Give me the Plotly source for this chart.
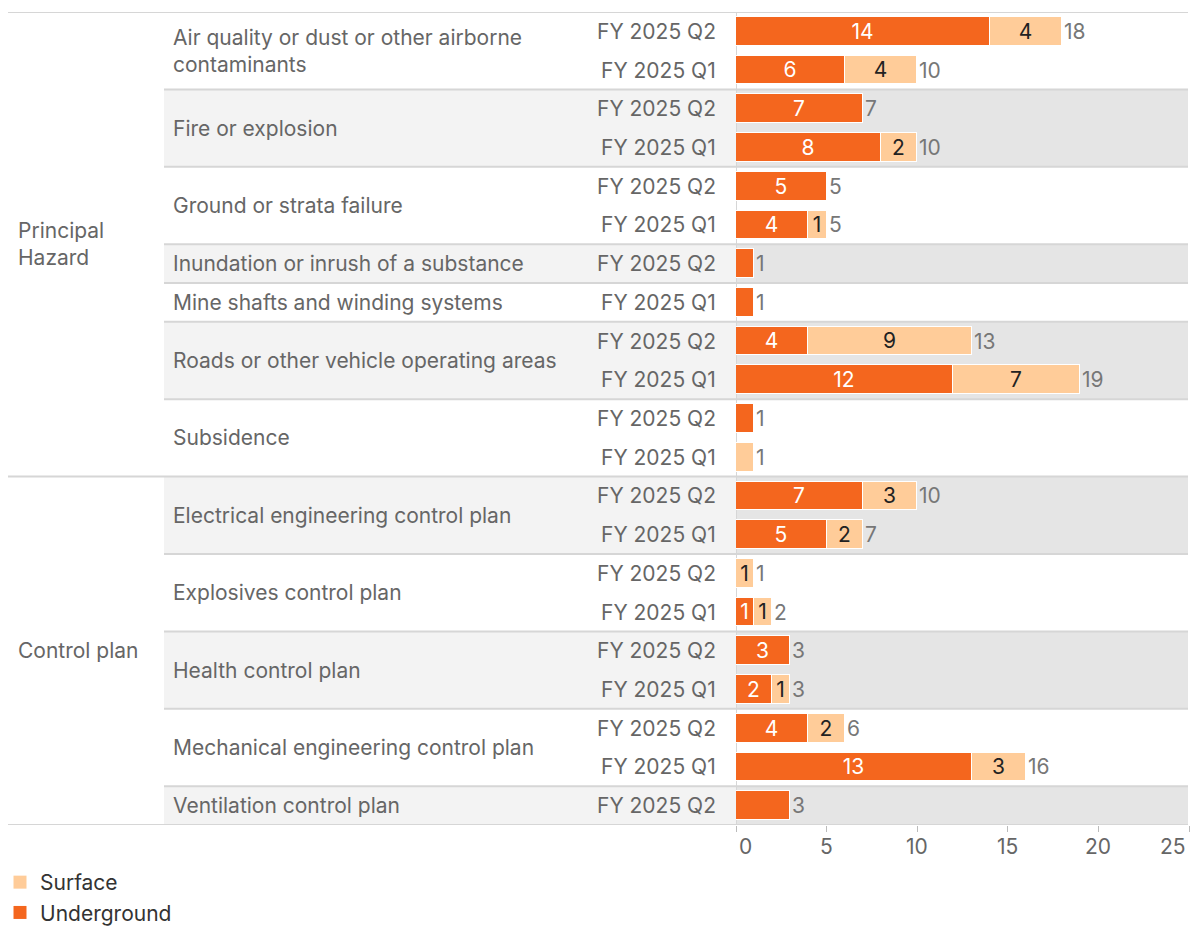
import plotly.graph_objects as go

# ---- data -------------------------------------------------------------
groups = ["Principal Hazard"] * 12 + ["Control plan"] * 9
group_labels = {"Principal Hazard": "Principal<br>Hazard", "Control plan": "Control plan"}

hazards = [
    "Air quality or dust or other airborne contaminants",
    "Air quality or dust or other airborne contaminants",
    "Fire or explosion", "Fire or explosion",
    "Ground or strata failure", "Ground or strata failure",
    "Inundation or inrush of a substance",
    "Mine shafts and winding systems",
    "Roads or other vehicle operating areas", "Roads or other vehicle operating areas",
    "Subsidence", "Subsidence",
    "Electrical engineering control plan", "Electrical engineering control plan",
    "Explosives control plan", "Explosives control plan",
    "Health control plan", "Health control plan",
    "Mechanical engineering control plan", "Mechanical engineering control plan",
    "Ventilation control plan",
]
hazard_display = {
    "Air quality or dust or other airborne contaminants":
        "Air quality or dust or other airborne<br>contaminants",
}

periods = [
    "FY 2025 Q2", "FY 2025 Q1", "FY 2025 Q2", "FY 2025 Q1", "FY 2025 Q2", "FY 2025 Q1",
    "FY 2025 Q2", "FY 2025 Q1", "FY 2025 Q2", "FY 2025 Q1", "FY 2025 Q2", "FY 2025 Q1",
    "FY 2025 Q2", "FY 2025 Q1", "FY 2025 Q2", "FY 2025 Q1", "FY 2025 Q2", "FY 2025 Q1",
    "FY 2025 Q2", "FY 2025 Q1", "FY 2025 Q2",
]

underground = [14, 6, 7, 8, 5, 4, 1, 1, 4, 12, 1, 0, 7, 5, 0, 1, 3, 2, 4, 13, 3]
surface = [4, 4, 0, 2, 0, 1, 0, 0, 9, 7, 0, 1, 3, 2, 1, 1, 0, 1, 2, 3, 0]

# segment labels are left off the narrowest single-segment rows
segment_labels_shown = [True] * 21
for i in (6, 7, 10, 11, 20):
    segment_labels_shown[i] = False

x_ticks = [0, 5, 10, 15, 20, 25]

# ---- styling ----------------------------------------------------------
FONT = "Inter"
FS = 21
C_UNDER = "#F4661E"
C_SURF = "#FFCC99"
C_TEXT = "#666666"
C_LINE = "#D6D6D6"
BAND_LABEL = "#F3F3F3"
BAND_PLOT = "#E5E5E5"

W, H = 1190, 926
PLOT_L, PLOT_R = 736, 1189
TOP, BOTTOM = 12, 825
LABEL_COL = 164
EDGE_L, EDGE_R = 8, 1188

n = len(periods)
rows = list(range(n))


def px(x):
    return x / W


def py(y):
    return (BOTTOM - y) / (BOTTOM - TOP)


def seg_text(values):
    return [str(v) if (v and show) else "" for v, show in zip(values, segment_labels_shown)]


def nz(values):
    return [v if v else None for v in values]


fig = go.Figure()

fig.add_trace(go.Bar(
    name="Underground", y=rows, x=nz(underground), orientation="h",
    marker=dict(color=C_UNDER, line=dict(color="white", width=1)),
    text=seg_text(underground), textposition="inside", insidetextanchor="middle",
    textangle=0, textfont=dict(color="white", size=FS, family=FONT),
    width=0.74, showlegend=False, hoverinfo="skip",
))
fig.add_trace(go.Bar(
    name="Surface", y=rows, x=nz(surface), orientation="h",
    marker=dict(color=C_SURF, line=dict(color="white", width=1)),
    text=seg_text(surface), textposition="inside", insidetextanchor="middle",
    textangle=0, textfont=dict(color="#222222", size=FS, family=FONT),
    width=0.74, showlegend=False, hoverinfo="skip",
))

# legend entries with solid square swatches
for name, color in (("Surface", C_SURF), ("Underground", C_UNDER)):
    fig.add_trace(go.Scatter(
        name=name, x=[None], y=[None], mode="markers",
        marker=dict(symbol="square", size=13, color=color, line=dict(width=0)),
        showlegend=True, hoverinfo="skip",
    ))

shapes = []
annotations = []

# hazard blocks: alternating bands, separators and labels
blocks = []
for i, h in enumerate(hazards):
    if blocks and blocks[-1][0] == h:
        blocks[-1][2] = i
    else:
        blocks.append([h, i, i])

for k, (h, r0, r1) in enumerate(blocks):
    if k % 2 == 1:
        shapes.append(dict(type="rect", xref="paper", yref="y", layer="below",
                           x0=px(LABEL_COL), x1=px(PLOT_L), y0=r0 - 0.5, y1=r1 + 0.5,
                           fillcolor=BAND_LABEL, line_width=0))
        shapes.append(dict(type="rect", xref="paper", yref="y", layer="below",
                           x0=px(PLOT_L), x1=px(EDGE_R), y0=r0 - 0.5, y1=r1 + 0.5,
                           fillcolor=BAND_PLOT, line_width=0))
    if r0 > 0:
        x_start = EDGE_L if groups[r0] != groups[r0 - 1] else LABEL_COL
        shapes.append(dict(type="line", xref="paper", yref="y", layer="below",
                           x0=px(x_start), x1=px(EDGE_R), y0=r0 - 0.5, y1=r0 - 0.5,
                           line=dict(color=C_LINE, width=2)))
    annotations.append(dict(xref="paper", yref="y", x=px(171), y=(r0 + r1) / 2,
                            text=hazard_display.get(h, h), showarrow=False,
                            xanchor="left", yanchor="middle", align="left",
                            font=dict(family=FONT, size=FS, color=C_TEXT)))

# outer rules: top, bottom and the zero axis
shapes.append(dict(type="line", xref="paper", yref="y", layer="below",
                   x0=px(EDGE_L), x1=px(EDGE_R), y0=-0.5, y1=-0.5,
                   line=dict(color=C_LINE, width=2)))
shapes.append(dict(type="line", xref="paper", yref="y", layer="below",
                   x0=px(EDGE_L), x1=px(EDGE_R), y0=n - 0.5, y1=n - 0.5,
                   line=dict(color=C_LINE, width=2)))
shapes.append(dict(type="line", xref="x", yref="y", layer="below",
                   x0=0, x1=0, y0=-0.5, y1=n - 0.5,
                   line=dict(color=C_LINE, width=2)))

# group labels
for g in dict.fromkeys(groups):
    idx = [i for i, gg in enumerate(groups) if gg == g]
    annotations.append(dict(xref="paper", yref="y", x=px(16), y=(idx[0] + idx[-1]) / 2,
                            text=group_labels[g], showarrow=False,
                            xanchor="left", yanchor="middle", align="left",
                            font=dict(family=FONT, size=FS, color=C_TEXT)))

# period labels and totals
for i in rows:
    annotations.append(dict(xref="paper", yref="y", x=px(718), y=i, text=periods[i],
                            showarrow=False, xanchor="right", yanchor="middle",
                            font=dict(family=FONT, size=FS, color=C_TEXT)))
    total = underground[i] + surface[i]
    annotations.append(dict(xref="x", yref="y", x=total, y=i, text=str(total),
                            showarrow=False, xanchor="left", yanchor="middle", xshift=0,
                            font=dict(family=FONT, size=FS, color="#777777")))

# x tick labels: end labels kept inside the axis span
for j, t in enumerate(x_ticks):
    if j == 0:
        anchor, shift = "left", 1
    elif j == len(x_ticks) - 1:
        anchor, shift = "right", -1
    else:
        anchor, shift = "center", 0
    annotations.append(dict(xref="x", yref="paper", x=t, y=py(846), text=str(t),
                            showarrow=False, xanchor=anchor, yanchor="middle", xshift=shift,
                            font=dict(family=FONT, size=FS, color=C_TEXT)))

fig.update_layout(
    width=W, height=H,
    margin=dict(l=0, r=0, t=TOP, b=H - BOTTOM, pad=0, autoexpand=False),
    paper_bgcolor="white", plot_bgcolor="rgba(0,0,0,0)",
    barmode="stack", bargap=0,
    font=dict(family=FONT, size=FS, color=C_TEXT),
    uniformtext=dict(minsize=FS, mode="show"),
    xaxis=dict(domain=[px(PLOT_L), px(PLOT_R)], range=[0, 25], tickvals=x_ticks,
               showticklabels=False, showgrid=False, zeroline=False, showline=False,
               ticks="outside", ticklen=6, tickwidth=1, tickcolor="#BBBBBB"),
    yaxis=dict(range=[n - 0.5, -0.5], showticklabels=False, showgrid=False,
               zeroline=False, showline=False, ticks=""),
    showlegend=True,
    legend=dict(x=0.0, xanchor="left", y=py(862), yanchor="top",
                traceorder="normal", font=dict(family=FONT, size=FS, color="#333333"),
                itemclick=False, itemdoubleclick=False, tracegroupgap=0),
    shapes=shapes, annotations=annotations,
)

fig.write_html("out.html")
